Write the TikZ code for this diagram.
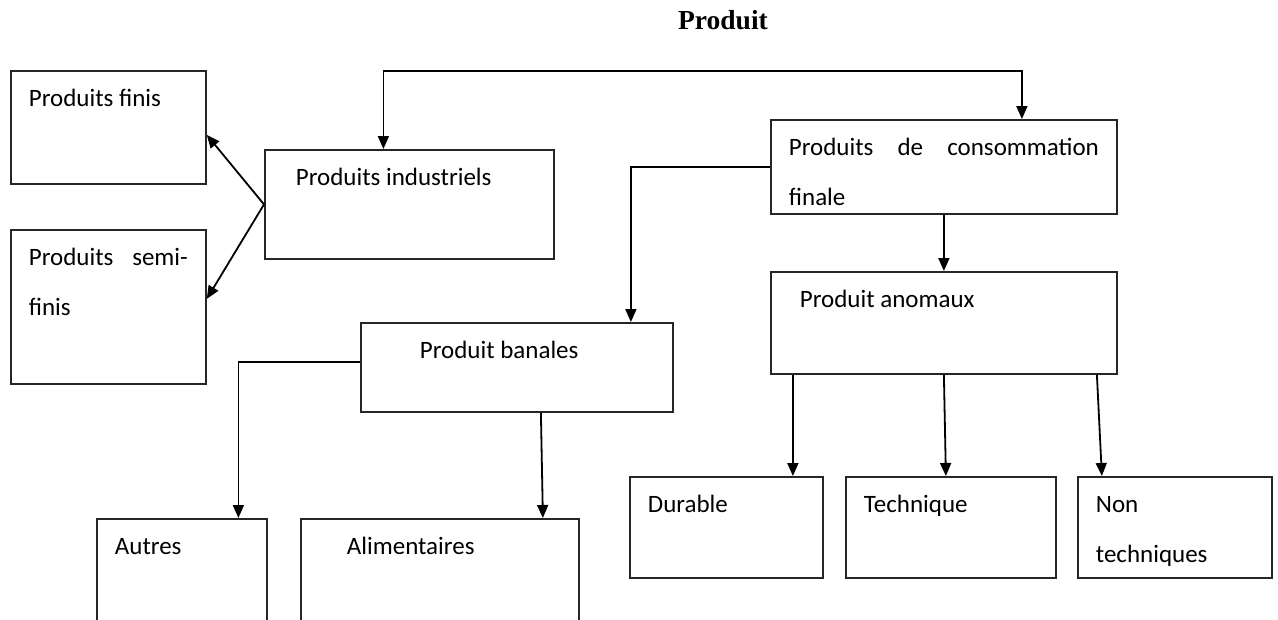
\documentclass[tikz,border=0pt]{standalone}
\usepackage{fontspec}
\setmainfont{Carlito}
\newfontfamily\titlefont{Liberation Serif}
\usetikzlibrary{arrows.meta,positioning}

\begin{document}
\begin{tikzpicture}[
  x=1pt, y=-1pt,
  every node/.style={font=\fontsize{25}{50}\selectfont},
  box/.style={rectangle, draw=black!85, line width=1.8pt, anchor=north west,
              inner xsep=18pt, inner ysep=0pt, align=justify, text height=36pt},
  toptitle/.style={font=\titlefont\bfseries\fontsize{27.5}{30}\selectfont, anchor=base},
  arr/.style={-{Triangle[length=13pt,width=11pt]}, draw=black, line width=1.8pt}]

\useasboundingbox (0,0) rectangle (1278,619);
\clip (0,0) rectangle (1278,619);

\node[toptitle] (ttl) at (723,29) {Produit};

\node[box, text width=159pt, text depth=77pt] (finis) at (10,70) {Produits finis};
\node[box, text width=159pt, text depth=118pt] (semi) at (10,229) {Produits semi-\linebreak finis};
\node[box, text width=253pt, text depth=73pt] (indus) at (264,149) {\hspace*{13pt}Produits industriels};
\node[box, text width=310pt, text depth=58pt] (conso) at (770,119) {Produits de consommation\linebreak[4]\vspace*{-2pt}finale};
\node[box, text width=310pt, text depth=66pt] (anom) at (770,271) {\hspace*{11pt}Produit anomaux};
\node[box, text width=276pt, text depth=53pt] (banal) at (360,322) {\hspace*{41pt}Produit banales};
\node[box, text width=134pt, text depth=114pt] (autres) at (96,518) {Autres};
\node[box, text width=242pt, text depth=114pt] (alim) at (300,518) {\hspace*{28pt}Alimentaires};
\node[box, text width=157pt, text depth=65pt] (durable) at (629,476) {Durable};
\node[box, text width=174pt, text depth=65pt] (techn) at (845,476) {Technique};
\node[box, text width=158pt, text depth=65pt] (nontech) at (1077,476) {Non\\techniques};

\coordinate (bar) at (700,71);
\draw[arr, {Triangle[length=13pt,width=11pt]}-{Triangle[length=13pt,width=11pt]}]
  ([xshift=-26pt]indus.north) |- (bar) -| ([xshift=78pt]conso.north);
\draw[arr] (indus.west) -- ([yshift=-7.5pt]finis.east);
\draw[arr] (indus.west) -- ([yshift=8pt]semi.east);
\draw[arr] (conso.west) -| ([xshift=114pt]banal.north);
\draw[arr] (conso.south) -- (anom.north);
\draw[arr] ([yshift=5.5pt]banal.west) -| ([xshift=56.5pt]autres.north);
\draw[arr] ([xshift=24pt]banal.south) -- ([xshift=103pt]alim.north);
\draw[arr] ([xshift=-151pt]anom.south) -- ([xshift=66.5pt]durable.north);
\draw[arr] (anom.south) -- ([xshift=-5pt]techn.north);
\draw[arr] ([xshift=153pt]anom.south) -- ([xshift=-73pt]nontech.north);
\end{tikzpicture}
\end{document}
